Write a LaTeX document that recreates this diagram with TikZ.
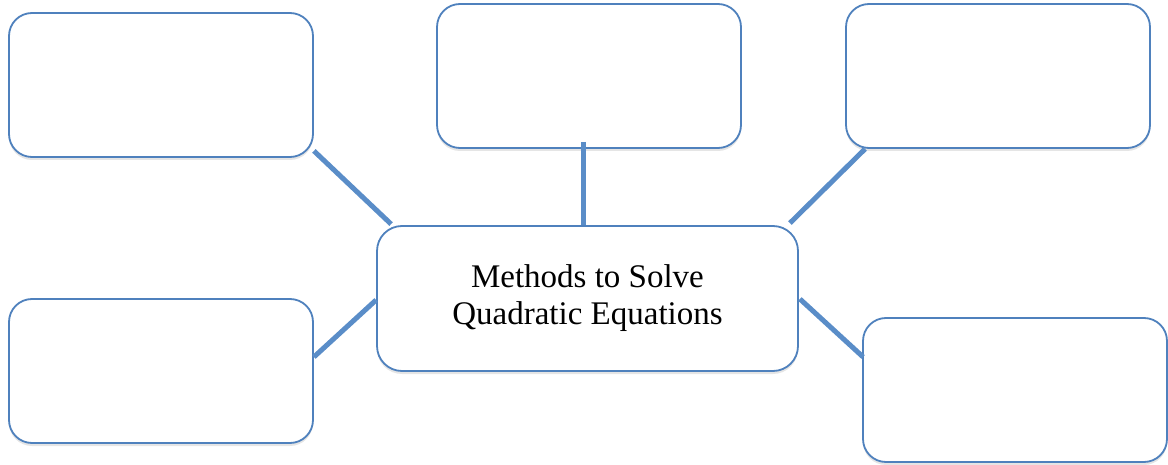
\documentclass[tikz,border=0pt]{standalone}
\usepackage{fontspec}
\setmainfont{Liberation Serif}
\usetikzlibrary{calc,shadows}
\definecolor{boxblue}{HTML}{4F81BD}
\definecolor{linkblue}{HTML}{5A8DC8}
\tikzset{
  leaf/.style={draw=boxblue, line width=1.8pt, fill=white, rounded corners=23pt,
    minimum width=304pt, minimum height=144pt, inner sep=0pt,
    drop shadow={shadow xshift=0pt, shadow yshift=-3pt, opacity=0.10, fill=black}},
  hub/.style={leaf, minimum width=421pt, minimum height=145pt, rounded corners=25pt,
    align=center, font=\fontsize{33}{37}\selectfont},
  link/.style={draw=linkblue, line width=5pt}
}
\begin{document}
\begin{tikzpicture}[x=1pt,y=-1pt]
\useasboundingbox (0,0) rectangle (1168,465);
\node[leaf] (tl) at (161,85) {};
\node[leaf] (tc) at (589,76) {};
\node[leaf] (tr) at (998,76) {};
\node[leaf] (bl) at (161,371) {};
\node[leaf] (br) at (1015,390) {};
\node[hub] (c) at (587.5,298.5) {Methods to Solve\\Quadratic Equations};
\draw[link] ($(tl.south east)+(0,-7)$) -- ($(c.north west)+(15,-1)$);
\draw[link] ($(tc.south)+(-6,-7)$) -- ($(c.north)+(-4.5,0)$);
\draw[link] ($(tr.south west)+(20,0)$) -- ($(c.north east)+(-9,-2)$);
\draw[link] ($(bl.east)+(0,-14)$) -- ($(c.west)+(0,1.5)$);
\draw[link] ($(c.east)+(1,0.5)$) -- ($(br.west)+(1,-33)$);
\end{tikzpicture}
\end{document}
